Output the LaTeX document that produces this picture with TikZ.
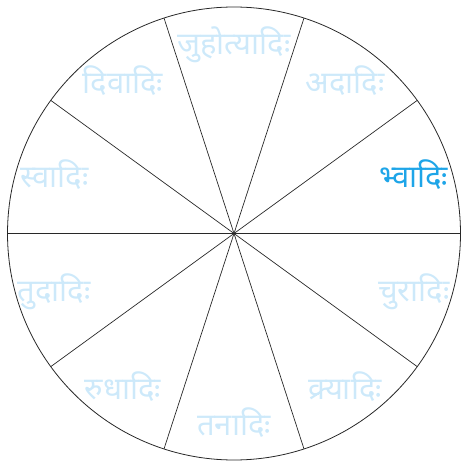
\documentclass[tikz,border=0pt]{standalone}
\usepackage{fontspec}
\newfontfamily\devfont[Script=Devanagari]{Noto Sans}
\usepackage{tikz}
\usetikzlibrary{calc}
\definecolor{ganablue}{RGB}{30, 165, 232}
\definecolor{ganafade}{RGB}{205, 233, 250}
\definecolor{ganaline}{RGB}{40, 40, 40}

\begin{document}
\begin{tikzpicture}[x=1pt, y=1pt,
    gana/.style={text=ganafade, font=\devfont\fontsize{31}{31}\selectfont},
    activegana/.style={gana, text=ganablue}]
    \useasboundingbox (0,0) rectangle (461,461);
    \coordinate (c) at (234,227.5);
    % wheel and spokes
    \draw[ganaline, line width=0.8pt] (c) circle (226.5);
    \foreach \a in {0,36,...,144}
        \draw[ganaline, line width=0.7pt] ($(c)+(\a:226.5)$) -- ($(c)+(\a+180:226.5)$);
    % the ten classes
    \node[activegana] (bhvadi) at ($(c)+(18:189)$) {भ्वादिः};
    \node[gana] (adadi) at ($(c)+(54:189)$) {अदादिः};
    \node[gana] (juhotyadi) at ($(c)+(90:189)$) {जुहोत्यादिः};
    \node[gana] (divadi) at ($(c)+(126:189)$) {दिवादिः};
    \node[gana] (svadi) at ($(c)+(162:189)$) {स्वादिः};
    \node[gana] (tudadi) at ($(c)+(198:189)$) {तुदादिः};
    \node[gana] (rudhadi) at ($(c)+(234:189)$) {रुधादिः};
    \node[gana] (tanadi) at ($(c)+(270:189)$) {तनादिः};
    \node[gana] (kryadi) at ($(c)+(306:189)$) {क्र्यादिः};
    \node[gana] (churadi) at ($(c)+(342:189)$) {चुरादिः};
\end{tikzpicture}
\end{document}
